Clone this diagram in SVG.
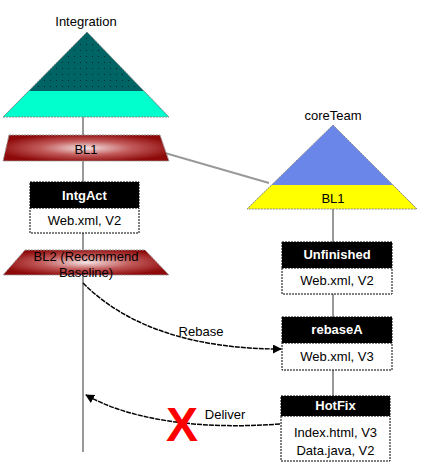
<svg xmlns="http://www.w3.org/2000/svg" width="425" height="464" viewBox="0 0 425 464">
<defs>
<style>
text{font-family:"Liberation Sans",Arial,sans-serif;font-size:13px;fill:#000;text-anchor:middle}
.hdr{fill:#fff;font-weight:bold}
.hbox{fill:#000;stroke:#000;stroke-width:1;stroke-dasharray:2 1}
.bbox{fill:#fff;stroke:#000;stroke-width:1;stroke-dasharray:2 1}
.gray{stroke:#999;stroke-width:2;fill:none}
.arr{stroke:#000;stroke-width:1.5;fill:none;stroke-dasharray:5 1}
.trap{fill:url(#red);stroke:#999;stroke-width:1;stroke-dasharray:2 1}
.tri{stroke:#888;stroke-width:1;stroke-dasharray:2 1}
</style>
<radialGradient id="red" cx="50%" cy="50%" r="55%">
<stop offset="0" stop-color="#f4e4e4"/>
<stop offset="0.5" stop-color="#c25a5a"/>
<stop offset="1" stop-color="#8e0a0a"/>
</radialGradient>
<pattern id="dots" width="6" height="6" patternUnits="userSpaceOnUse">
<rect width="6" height="6" fill="#006464"/>
<rect x="2" y="2" width="1" height="1" fill="#002a2a"/>
</pattern>
<marker id="ah" viewBox="0 0 10 10" refX="9" refY="5" markerWidth="9" markerHeight="9" markerUnits="userSpaceOnUse" orient="auto">
<path d="M0,0 L10,5 L0,10 z" fill="#000"/>
</marker>
</defs>
<rect width="425" height="464" fill="#fff"/>
<g id="connectors">
<line class="gray" x1="83" y1="117" x2="83" y2="452"/>
<line class="gray" x1="333" y1="209" x2="333" y2="396"/>
<line class="gray" x1="158" y1="151" x2="269" y2="183"/>
<path class="arr" d="M83,283 C130,330 200,349 281,349" marker-end="url(#ah)"/>
<text x="201" y="336">Rebase</text>
<path class="arr" d="M280,424 C200,430 130,420 86,395" marker-end="url(#ah)"/>
<text x="225" y="419">Deliver</text>
<text x="182" y="441" style="font-size:48px;font-weight:bold;fill:#ff0000">X</text>
</g>
<g id="integration">
<text x="86" y="26">Integration</text>
<polygon points="87,32 169,117 3,117" fill="url(#dots)"/>
<polygon points="28.7,91 143.9,91 169,117 3,117" fill="#00ffcc"/>
<polygon class="tri" points="87,32 169,117 3,117" fill="none"/>
</g>
<g id="int-bl1">
<polygon class="trap" points="9,135 160,135 169,161 3,161"/>
<text x="86" y="154">BL1</text>
</g>
<g id="intgact">
<rect class="hbox" x="30" y="182" width="109" height="26"/>
<rect class="bbox" x="30" y="208" width="109" height="25"/>
<text class="hdr" x="84.5" y="200">IntgAct</text>
<text x="84.5" y="225">Web.xml, V2</text>
</g>
<g id="bl2">
<polygon class="trap" points="25,250 145,250 169,275 3,275"/>
<text x="86" y="261">BL2 (Recommend</text>
<text x="86" y="277">Baseline)</text>
</g>
<g id="coreteam">
<text x="333" y="120">coreTeam</text>
<polygon points="333,125 417,209 247,209" fill="#6a86e8"/>
<polygon points="271.6,185 393,185 417,209 247,209" fill="#ffff00"/>
<polygon class="tri" points="333,125 417,209 247,209" fill="none"/>
<text x="333" y="203">BL1</text>
</g>
<g id="unfinished">
<rect class="hbox" x="282" y="242" width="110" height="26"/>
<rect class="bbox" x="282" y="268" width="110" height="26"/>
<text class="hdr" x="337" y="259">Unfinished</text>
<text x="337" y="285">Web.xml, V2</text>
</g>
<g id="rebasea">
<rect class="hbox" x="282" y="317" width="110" height="26"/>
<rect class="bbox" x="282" y="343" width="110" height="27"/>
<text class="hdr" x="337" y="334">rebaseA</text>
<text x="337" y="361">Web.xml, V3</text>
</g>
<g id="hotfix">
<rect class="hbox" x="281" y="396" width="109" height="20"/>
<rect class="bbox" x="281" y="416" width="109" height="45"/>
<text class="hdr" x="335.5" y="410">HotFix</text>
<text x="335.5" y="437">Index.html, V3</text>
<text x="335.5" y="455">Data.java, V2</text>
</g>
</svg>
